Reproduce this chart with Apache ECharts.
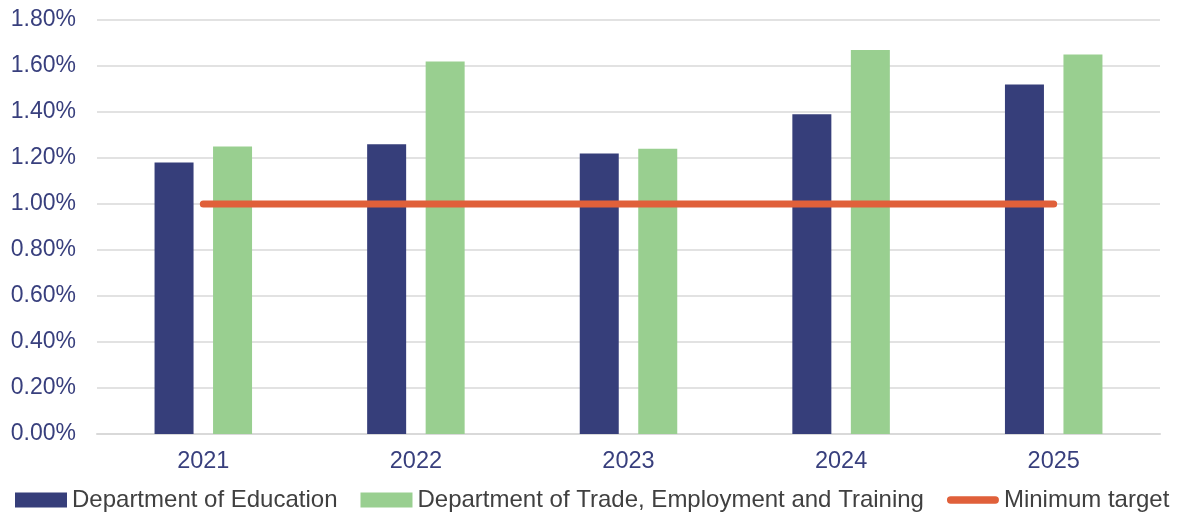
<!DOCTYPE html>
<html>
<head>
<meta charset="utf-8">
<script src="https://cdn.jsdelivr.net/npm/echarts@6/dist/echarts.min.js"></script>
<style>
    html, body { margin: 0; padding: 0; background: #fff; }
    #chart { width: 1183px; height: 513px; }
</style>
</head>
<body>
<div id="chart"></div>
<script>
const years = ["2021", "2022", "2023", "2024", "2025"];
const education = [1.18, 1.26, 1.22, 1.39, 1.52];
const trade = [1.25, 1.62, 1.24, 1.67, 1.65];
const minTarget = [1.0, 1.0, 1.0, 1.0, 1.0];
const yTicks = [0, 0.2, 0.4, 0.6, 0.8, 1.0, 1.2, 1.4, 1.6, 1.8];

const font = "Arial, 'Liberation Sans', sans-serif";
const chart = echarts.init(document.getElementById("chart"));

chart.setOption({
    backgroundColor: "#fff",
    animation: false,
    grid: { left: 97, right: 23, top: 20, bottom: 79 },

    legend: {
        left: 15,
        top: 488,
        padding: 0,
        itemWidth: 52,
        itemHeight: 15,
        itemGap: 23,
        textStyle: { color: "#404040", fontSize: 24, fontFamily: font },
        data: [
            { name: "Department of Education", icon: "rect" },
            { name: "Department of Trade, Employment and Training", icon: "rect" },
            {
                name: "Minimum target",
                icon: "path://M4,0 L52,0 A4,4 0 0 1 52,8 L4,8 A4,4 0 0 1 4,0 Z",
                itemStyle: { color: "#e0603a" }
            }
        ]
    },

    xAxis: {
        type: "category",
        data: years,
        axisLine: { lineStyle: { color: "#d9d9d9", width: 2 } },
        axisTick: { show: false },
        axisLabel: { color: "#383f7d", fontSize: 23.5, fontFamily: font, margin: 16 }
    },

    yAxis: {
        type: "value",
        min: yTicks[0],
        max: yTicks[yTicks.length - 1],
        interval: 0.2,
        axisLine: { show: false },
        axisTick: { show: false },
        splitLine: { lineStyle: { color: "#d9d9d9", width: 1.5 } },
        axisLabel: {
            color: "#383f7d",
            fontSize: 23,
            fontFamily: font,
            margin: 21,
            formatter: v => v.toFixed(2) + "%"
        }
    },

    series: [
        {
            name: "Department of Education",
            type: "bar",
            data: education,
            barWidth: 39,
            barGap: "50%",
            itemStyle: { color: "#363e7a" }
        },
        {
            name: "Department of Trade, Employment and Training",
            type: "bar",
            data: trade,
            barWidth: 39,
            itemStyle: { color: "#99cf90" }
        },
        {
            name: "Minimum target",
            type: "line",
            data: minTarget,
            symbol: "none",
            lineStyle: { color: "#e0603a", width: 7, cap: "round" },
            itemStyle: { color: "#e0603a" },
            z: 5
        }
    ]
});
</script>
</body>
</html>
